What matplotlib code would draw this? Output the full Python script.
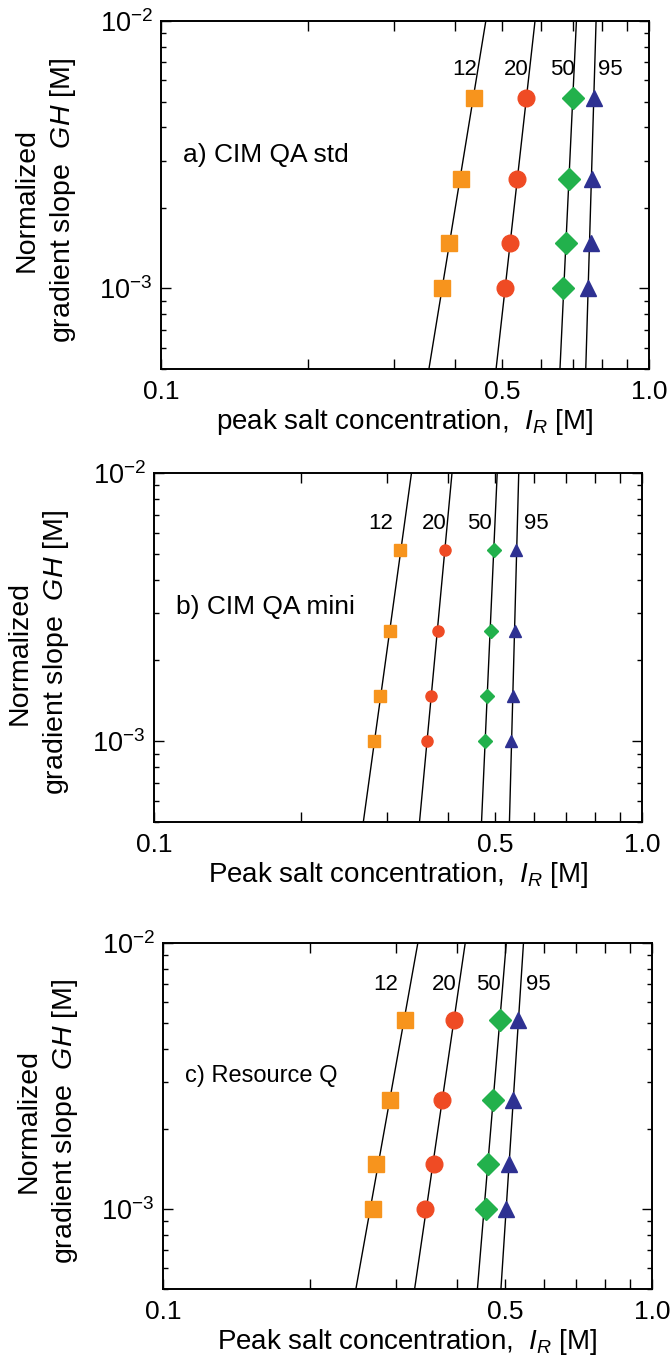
import matplotlib
matplotlib.use("Agg")
import matplotlib.pyplot as plt
from matplotlib.ticker import FixedLocator, FixedFormatter, NullFormatter

plt.rcParams["font.family"] = ["Liberation Sans", "DejaVu Sans"]
plt.rcParams["mathtext.fontset"] = "custom"
plt.rcParams["mathtext.rm"] = "Liberation Sans"
plt.rcParams["mathtext.it"] = "Liberation Sans:italic"
plt.rcParams["mathtext.bf"] = "Liberation Sans:bold"

# gradient slope GH [M] at which the peaks were measured
gh_a = [1.0e-3, 1.48e-3, 2.57e-3, 5.15e-3]
gh_b = [1.0e-3, 1.47e-3, 2.57e-3, 5.15e-3]
gh_c = [1.0e-3, 1.47e-3, 2.57e-3, 5.12e-3]

# peak salt concentration I_R [M] for each protein size (12, 20, 50, 95)
ir_a = {
    "12": [0.377, 0.390, 0.412, 0.437],
    "20": [0.507, 0.520, 0.537, 0.561],
    "50": [0.668, 0.676, 0.686, 0.699],
    "95": [0.750, 0.759, 0.763, 0.770],
}
ir_b = {
    "12": [0.282, 0.291, 0.305, 0.319],
    "20": [0.363, 0.370, 0.382, 0.394],
    "50": [0.477, 0.481, 0.491, 0.498],
    "95": [0.540, 0.543, 0.549, 0.553],
}
ir_c = {
    "12": [0.269, 0.273, 0.291, 0.312],
    "20": [0.344, 0.359, 0.372, 0.393],
    "50": [0.458, 0.461, 0.474, 0.489],
    "95": [0.503, 0.511, 0.519, 0.533],
}

# model curves: I_R at the bottom (GH=5e-4) and top (GH=1e-2) of the plot
gh_line = [5e-4, 1e-2]
line_a = {"12": [0.354, 0.463], "20": [0.486, 0.584], "50": [0.657, 0.710], "95": [0.742, 0.779]}
line_b = {"12": [0.2685, 0.337], "20": [0.350, 0.408], "50": [0.469, 0.505], "95": [0.535, 0.559]}
line_c = {"12": [0.248, 0.332], "20": [0.327, 0.415], "50": [0.4395, 0.5035], "95": [0.491, 0.546]}

# curve labels (x, y)
lab_a = {"12": (0.419, 6.6e-3), "20": (0.535, 6.6e-3), "50": (0.664, 6.6e-3), "95": (0.834, 6.6e-3)}
lab_b = {"12": (0.292, 6.5e-3), "20": (0.375, 6.5e-3), "50": (0.464, 6.5e-3), "95": (0.606, 6.5e-3)}
lab_c = {"12": (0.286, 7.0e-3), "20": (0.376, 7.0e-3), "50": (0.464, 7.0e-3), "95": (0.586, 7.0e-3)}

styles = {
    "12": ("s", "#F7941D"),
    "20": ("o", "#EF4B24"),
    "50": ("D", "#22B14C"),
    "95": ("^", "#2E3192"),
}

x_major = [0.1, 0.5, 1.0]
x_major_labels = ["0.1", "0.5", "1.0"]
x_minor = [0.2, 0.3, 0.4, 0.6, 0.7, 0.8, 0.9]
y_major = [1e-3, 1e-2]
y_major_labels = ["$10^{-3}$", "$10^{-2}$"]
y_minor = [5e-4, 6e-4, 7e-4, 8e-4, 9e-4, 2e-3, 3e-3, 4e-3, 5e-3, 6e-3, 7e-3, 8e-3, 9e-3]


def draw_panel(ax, gh, ir, lines, labels, title, title_size, xlabel, msize):
    for key in ["12", "20", "50", "95"]:
        ax.plot(lines[key], gh_line, color="black", lw=1.0, zorder=2)
    for key in ["12", "20", "50", "95"]:
        marker, color = styles[key]
        ms = msize * (0.95 if marker == "D" else 1.0)
        ax.plot(ir[key], gh, linestyle="none", marker=marker, ms=ms,
                color=color, mec=color, zorder=3)
        lx, ly = labels[key]
        ax.text(lx, ly, key, fontsize=16, ha="center", va="center")

    ax.set_xscale("log")
    ax.set_yscale("log")
    ax.set_xlim(0.1, 1.0)
    ax.set_ylim(5e-4, 1e-2)

    ax.xaxis.set_major_locator(FixedLocator(x_major))
    ax.xaxis.set_major_formatter(FixedFormatter(x_major_labels))
    ax.xaxis.set_minor_locator(FixedLocator(x_minor))
    ax.xaxis.set_minor_formatter(NullFormatter())
    ax.yaxis.set_major_locator(FixedLocator(y_major))
    ax.yaxis.set_major_formatter(FixedFormatter(y_major_labels))
    ax.yaxis.set_minor_locator(FixedLocator(y_minor))
    ax.yaxis.set_minor_formatter(NullFormatter())

    ax.tick_params(axis="both", which="both", direction="in", top=True, right=True, width=1.0)
    ax.tick_params(axis="x", which="both", length=7, labelsize=19, pad=8)
    ax.tick_params(axis="y", which="major", length=7, labelsize=19.5, pad=6)
    ax.tick_params(axis="y", which="minor", length=3.6)
    for sp in ax.spines.values():
        sp.set_linewidth(1.4)

    ax.text(0.111, 3.16e-3, title, fontsize=title_size, ha="left", va="center")
    ax.set_xlabel(xlabel, fontsize=20, labelpad=2)
    ax.text(-0.236, 0.485, "Normalized\ngradient slope  $GH$ [M]", transform=ax.transAxes,
            rotation=90, ha="center", va="center", multialignment="center",
            fontsize=20.5, linespacing=1.4)


def main():
    fig = plt.figure(figsize=(6.72, 13.58), dpi=100)
    W, H = 672.0, 1358.0
    boxes = [(161, 21, 649, 369), (154, 473, 642, 822), (163, 943, 652, 1289)]
    axes = [fig.add_axes([l / W, 1 - b / H, (r - l) / W, (b - t) / H]) for l, t, r, b in boxes]

    draw_panel(axes[0], gh_a, ir_a, line_a, lab_a, "a) CIM QA std", 19,
               "peak salt concentration,  $I_R$ [M]", 12)
    draw_panel(axes[1], gh_b, ir_b, line_b, lab_b, "b) CIM QA mini", 19,
               "Peak salt concentration,  $I_R$ [M]", 8)
    draw_panel(axes[2], gh_c, ir_c, line_c, lab_c, "c) Resource Q", 17,
               "Peak salt concentration,  $I_R$ [M]", 12)

    fig.savefig("out.png", dpi=100)
    plt.close(fig)


if __name__ == "__main__":
    main()
